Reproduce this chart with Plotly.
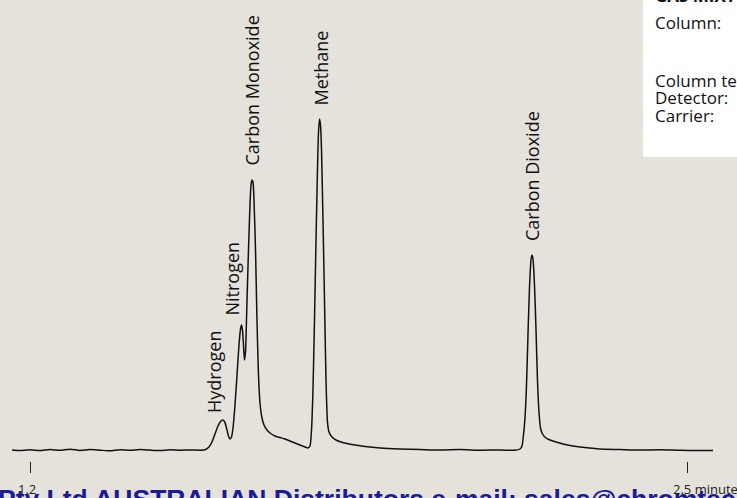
import plotly.graph_objects as go

# Chromatogram trace (time in minutes, detector signal in arbitrary units)
time_min = [
    1.1644, 1.1802, 1.2000, 1.2198, 1.2396, 1.2594, 1.2791, 1.2989, 1.3187, 1.3385,
    1.3583, 1.3781, 1.3979, 1.4176, 1.4374, 1.4572, 1.4770, 1.4968, 1.5166, 1.5364,
    1.5463, 1.5542, 1.5601, 1.5660, 1.5720, 1.5769, 1.5809, 1.5848, 1.5888, 1.5927,
    1.5957, 1.5987, 1.6017, 1.6056, 1.6096, 1.6135, 1.6165, 1.6185, 1.6204, 1.6224,
    1.6244, 1.6264, 1.6294, 1.6323, 1.6353, 1.6373, 1.6392, 1.6412, 1.6432, 1.6462,
    1.6491, 1.6521, 1.6551, 1.6590, 1.6630, 1.6689, 1.6749, 1.6848, 1.6947, 1.7045,
    1.7144, 1.7243, 1.7342, 1.7441, 1.7501, 1.7540, 1.7570, 1.7599, 1.7629, 1.7659,
    1.7688, 1.7708, 1.7728, 1.7748, 1.7768, 1.7797, 1.7827, 1.7857, 1.7886, 1.7916,
    1.7975, 1.8055, 1.8153, 1.8272, 1.8430, 1.8628, 1.8925, 1.9321, 1.9717, 2.0112,
    2.0508, 2.0904, 2.1299, 2.1596, 2.1695, 2.1735, 2.1764, 2.1794, 2.1824, 2.1853,
    2.1883, 2.1913, 2.1933, 2.1952, 2.1982, 2.2012, 2.2041, 2.2071, 2.2101, 2.2140,
    2.2210, 2.2289, 2.2407, 2.2546, 2.2684, 2.2882, 2.3080, 2.3278, 2.3674, 2.4069,
    2.4465, 2.4861, 2.5257, 2.5514,
]
signal = [
    0.0, -0.5, 0.2, -0.6, 0.5, -0.3, 0.8, -0.4, 0.4, -0.2,
    -0.8, 0.3, -0.3, 0.5, -0.1, -0.5, 0.2, -0.2, 0.1, -0.2,
    0.2, 3, 8, 16, 24, 28.5, 30, 28.5, 22, 14,
    11, 13, 22, 45, 75, 105, 121, 125, 120, 105,
    90, 98, 150, 200, 245, 265, 270, 268, 250, 200,
    130, 75, 47, 32, 25, 20, 17, 14, 12.5, 11,
    9, 7, 5, 3, 2, 4, 20, 60, 130, 210,
    280, 317, 331, 325, 300, 230, 150, 70, 28, 18,
    13, 10, 8, 6.5, 5, 3.5, 2, 1, 0.5, 0,
    0.4, -0.2, 0, -0.3, 1, 4, 15, 32, 65, 115,
    162, 190, 195, 191, 165, 120, 70, 38, 22, 16,
    12, 10, 8, 6, 4.5, 3, 2, 1, 0.5, 0,
    0.2, -0.3, -0.6, -0.5,
]

# Peak identification
peak_names = ["Hydrogen", "Nitrogen", "Carbon Monoxide", "Methane", "Carbon Dioxide"]
peak_label_time = [1.5640, 1.5987, 1.6402, 1.7738, 2.1933]
peak_label_base = [35, 132, 283, 342, 207]

# Axis ticks
tick_values = [1.2, 2.5]
tick_labels = ["1.2", "2.5 minutes"]

# Method box text
method_lines = ["<b>GAS MIXTURE</b>", "Column:", "Column temp:", "Detector:", "Carrier:"]
method_line_y = [1.010, 0.951, 0.826, 0.788, 0.749]

footer_text = "Pty Ltd AUSTRALIAN Distributors e-mail: sales@chromtech.net.au"

BG = "#e5e2dc"
LABEL_FONT = "Open Sans, Noto Sans, sans-serif"

fig = go.Figure()
fig.add_trace(go.Scatter(
    x=time_min, y=signal, mode="lines",
    line=dict(color="#111111", width=1.5, shape="spline", smoothing=0.6),
    hoverinfo="skip", showlegend=False,
))

annotations = []
for name, t, b in zip(peak_names, peak_label_time, peak_label_base):
    annotations.append(dict(
        x=t, y=b, xref="x", yref="y", text=name, textangle=-90,
        showarrow=False, xanchor="center", yanchor="bottom",
        font=dict(family=LABEL_FONT, size=18, color="#111111"),
    ))

# tick labels
annotations.append(dict(x=tick_values[0], y=-0.06, xref="x", yref="paper", xshift=-3,
                        text=tick_labels[0], showarrow=False, xanchor="center",
                        yanchor="middle", font=dict(family=LABEL_FONT, size=13, color="#222")))
annotations.append(dict(x=tick_values[1], y=-0.06, xref="x", yref="paper", xshift=-16,
                        text=tick_labels[1], showarrow=False, xanchor="left",
                        yanchor="middle", font=dict(family=LABEL_FONT, size=13, color="#222")))

for txt, yy in zip(method_lines, method_line_y):
    annotations.append(dict(x=0.8860, y=yy, xref="paper", yref="paper", text=txt,
                            showarrow=False, xanchor="left", yanchor="middle",
                            font=dict(family=LABEL_FONT, size=17, color="#111111")))

annotations.append(dict(x=-0.005, y=-0.045, xref="paper", yref="paper", text="<b>" + footer_text + "</b>",
                        showarrow=False, xanchor="left", yanchor="top",
                        font=dict(family="Liberation Sans, Arial, sans-serif", size=26.5, color="#1b1b93")))

fig.update_layout(
    width=737, height=498,
    margin=dict(l=0, r=0, t=0, b=37),
    paper_bgcolor=BG, plot_bgcolor=BG,
    xaxis=dict(range=[1.14064, 2.59889], showgrid=False, zeroline=False, showline=False,
               tickmode="array", tickvals=tick_values, ticktext=["", ""],
               ticks="outside", ticklen=11, tickwidth=1, tickcolor="#222"),
    yaxis=dict(range=[-11, 450], visible=False),
    shapes=[dict(type="rect", xref="paper", yref="paper", x0=0.8725, x1=1.1, y0=0.6594, y1=1.1,
                 fillcolor="white", line=dict(width=0), layer="below")],
    annotations=annotations,
)

fig.write_html("out.html", config={"displayModeBar": False},
               post_script="document.body.style.margin='0';document.body.style.overflow='hidden';")
